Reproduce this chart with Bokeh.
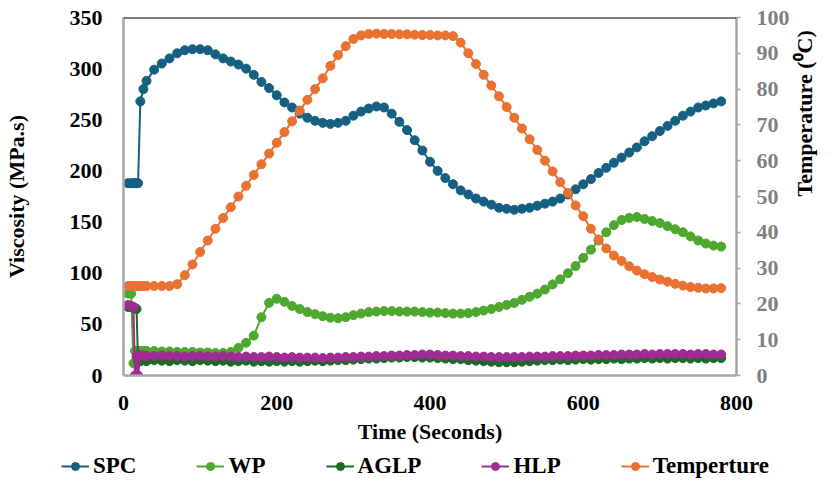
import math
from bokeh.plotting import figure
from bokeh.models import (Range1d, LinearAxis, FixedTicker, Legend, LegendItem, Span)
from bokeh.embed import file_html
from bokeh.resources import INLINE

# ---------------- data ----------------
time_s = [6, 10, 13, 15, 17, 19, 22, 26, 30,
          40, 50, 60, 70, 80, 90, 100, 110, 120, 130, 140, 150, 160, 170, 180, 190,
          200, 210, 220, 230, 240, 250, 260, 270, 280, 290, 300, 310, 320, 330, 340,
          350, 360, 370, 380, 390, 400, 410, 420, 430, 440, 450, 460, 470, 480, 490,
          500, 510, 520, 530, 540, 550, 560, 570, 580, 590, 600, 610, 620, 630, 640,
          650, 660, 670, 680, 690, 700, 710, 720, 730, 740, 750, 760, 770, 780]

spc = [188, 188, 188, 188, 188, 188, 268, 280, 288,
       299, 305, 310, 315, 318, 319, 319, 318, 314, 310, 307, 304, 300, 294, 287, 281,
       274, 267, 262, 256, 252, 249, 247, 246, 247, 249, 254, 258, 261, 263, 262,
       256, 248, 240, 230, 220, 209, 200, 193, 187, 181, 177, 173, 170, 167, 164,
       163, 162, 163, 164, 166, 168, 170, 173, 177, 182, 187, 192, 198, 203, 208,
       213, 218, 223, 229, 234, 239, 244, 249, 254, 258, 262, 264, 266, 268]

wp = [80, 80, 12, 24, 24, 24, 24, 24, 24,
      24, 23.5, 23.5, 23, 23, 23, 22.5, 22.5, 22, 22, 23, 27, 32, 39, 57, 71,
      75, 72, 68, 65, 62, 60, 58, 56.5, 56, 57, 59, 60.5, 62, 62.5, 63,
      63, 62.5, 62.5, 62.5, 62, 61.5, 61.5, 61, 60.5, 60.5, 61, 62, 63.5, 65, 67,
      69, 71, 74, 77, 80, 84, 89, 94, 100, 107, 115, 123, 132, 140, 147,
      152, 154, 155, 153, 151, 149, 146, 143, 140, 136, 132, 129, 127, 126]

aglp = [67, 67, 66, 66, 65, 14, 14, 15, 14,
        15, 14.5, 14, 15, 14.5, 14, 15, 14.5, 14, 14.5, 13.5, 14, 14.5, 13.5, 14, 13.5,
        14, 13.5, 14, 13.5, 14, 14.5, 14, 14.5, 15, 15,
        15.5, 16, 16.5, 16.5, 17, 17.5, 17.5, 18, 18, 17.5, 17.5, 17, 16.5, 16, 16,
        15, 14.5, 14, 13.5, 13, 13, 13, 13.5, 14, 14.5,
        15, 15, 15.5, 15, 15.5, 16, 15.5, 16, 16, 16.5, 16, 16.5, 16.5, 17, 16.5, 17,
        16.5, 17, 17, 16.5, 17, 16.5, 17, 17]

hlp = [69, 68, 67, 0, 19, 0, 20, 19.5, 19,
       19, 19.5, 19, 19, 18.5, 19, 19, 18.5, 18.5, 19, 18.5, 18, 18.5, 18, 18, 18.5,
       18, 17.5, 18, 17.5, 17.5, 17.5, 17, 17.5, 17.5, 18,
       18, 18.5, 18.5, 19, 19, 19.5, 19.5, 20, 20, 20.5, 20.5, 20, 19.5, 19.5, 19,
       19, 18.5, 18.5, 18, 18, 18, 18, 18, 18.5, 18.5,
       18.5, 19, 19, 19, 19.5, 19.5, 19.5, 20, 20, 20, 20.5, 20.5, 20.5, 21, 20.5, 21,
       21, 21, 21, 20.5, 21, 21, 20.5, 20.5]

temperature = [25, 25, 25, 25, 25, 25, 25, 25, 25,
               25, 25, 25, 25.5, 28, 31, 34.5, 37.7, 41, 44, 47, 50, 53, 56, 59, 62,
               65, 68, 71, 74, 77, 80, 83, 86.5, 89.5, 92, 94, 95, 95.4, 95.5, 95.4,
               95.4, 95.3, 95.3, 95.2, 95.1, 95.1, 95, 95, 94.8, 93, 90, 87, 84, 81, 78,
               75, 72, 69, 66, 63, 60, 57, 54, 51, 47.5, 44.5, 41, 38, 35.5, 33.5,
               32, 30.5, 29.3, 28.3, 27.5, 26.8, 26.2, 25.6, 25.1, 24.7, 24.5, 24.3, 24.3, 24.4]

series_names = ["SPC", "WP", "AGLP", "HLP", "Temperture"]
series_colors = ["#156082", "#4EA72E", "#196B24", "#A02B93", "#E97132"]
x_ticks = [0, 200, 400, 600, 800]
y_ticks = [0, 50, 100, 150, 200, 250, 300, 350]
y2_ticks = [0, 10, 20, 30, 40, 50, 60, 70, 80, 90, 100]

FONT = "Liberation Serif"

p = figure(width=832, height=452, output_backend="svg", toolbar_location=None,
           x_range=Range1d(0, 800), y_range=Range1d(0, 350),
           min_border_left=123, min_border_right=84, min_border_top=17,
           min_border_bottom=77)
p.extra_y_ranges = {"temp": Range1d(0, 100)}
p.xgrid.visible = False
p.ygrid.visible = False
p.outline_line_color = None
p.background_fill_color = "white"
p.border_fill_color = "white"

axis_gray = "#A6A6A6"

# left axis
ya = p.yaxis[0]
ya.ticker = FixedTicker(ticks=y_ticks)
ya.axis_line_color = axis_gray
ya.axis_line_width = 2.5
ya.major_tick_line_color = None
ya.minor_tick_line_color = None
ya.major_tick_out = 0
ya.major_tick_in = 0
ya.minor_tick_out = 0
ya.major_label_standoff = 21
ya.major_label_text_font = FONT
ya.major_label_text_font_style = "bold"
ya.major_label_text_font_size = "22px"
ya.major_label_text_color = "black"
ya.axis_label = "Viscosity (MPa.s)"
ya.axis_label_standoff = 38
ya.axis_label_text_font = FONT
ya.axis_label_text_font_style = "bold"
ya.axis_label_text_font_size = "22px"
ya.axis_label_text_color = "black"

# bottom axis
xa = p.xaxis[0]
xa.ticker = FixedTicker(ticks=x_ticks)
xa.axis_line_color = axis_gray
xa.axis_line_width = 2.5
xa.major_tick_line_color = None
xa.minor_tick_line_color = None
xa.major_tick_out = 0
xa.major_tick_in = 0
xa.minor_tick_out = 0
xa.major_label_standoff = 20
xa.major_label_text_font = FONT
xa.major_label_text_font_style = "bold"
xa.major_label_text_font_size = "22px"
xa.major_label_text_color = "black"
xa.axis_label = "Time (Seconds)"
xa.axis_label_standoff = 6
xa.axis_label_text_font = FONT
xa.axis_label_text_font_style = "bold"
xa.axis_label_text_font_size = "22px"
xa.axis_label_text_color = "black"

# right axis
ra = LinearAxis(y_range_name="temp", ticker=FixedTicker(ticks=y2_ticks))
ra.axis_line_color = axis_gray
ra.axis_line_width = 2.5
ra.major_tick_line_color = axis_gray
ra.major_tick_line_width = 1.5
ra.major_tick_out = 4
ra.major_tick_in = 0
ra.minor_tick_line_color = None
ra.major_label_standoff = 16
ra.major_label_text_font = FONT
ra.major_label_text_font_style = "bold"
ra.major_label_text_font_size = "22px"
ra.major_label_text_color = "#7F7F7F"
ra.axis_label = "Temperature (\u2070C)"
ra.axis_label_standoff = 12
ra.axis_label_text_font = FONT
ra.axis_label_text_font_style = "bold"
ra.axis_label_text_font_size = "22px"
ra.axis_label_text_color = "black"
if "axis_label_orientation" in LinearAxis.properties():
    ra.axis_label_orientation = math.pi / 2
    ra.axis_label_text_align = "center"
p.add_layout(ra, "right")

# top border
p.add_layout(Span(location=350, dimension="width", line_color="black", line_width=2))

# series
vis = [spc, wp, aglp, hlp]
for name, color, vals in zip(series_names[:4], series_colors[:4], vis):
    p.line(time_s, vals, line_color=color, line_width=2)
    p.scatter(time_s, vals, size=9, fill_color=color, line_color=color)
p.line(time_s, temperature, line_color=series_colors[4], line_width=2,
       y_range_name="temp")
p.scatter(time_s, temperature, size=9, fill_color=series_colors[4],
          line_color=series_colors[4], y_range_name="temp")

# legend strip below the chart (separate root, frame covers the whole strip)
lg = figure(width=832, height=32, output_backend="svg", toolbar_location=None,
            x_range=Range1d(0, 1), y_range=Range1d(0, 1),
            x_axis_type=None, y_axis_type=None,
            min_border_left=0, min_border_right=0, min_border_top=0,
            min_border_bottom=0)
lg.xgrid.visible = False
lg.ygrid.visible = False
lg.outline_line_color = None
lg.background_fill_color = "white"
lg.border_fill_color = "white"
items = []
for name, color in zip(series_names, series_colors):
    # legend-only renderers, their points sit outside the visible range
    lr = lg.line([5, 6], [5, 6], line_color=color, line_width=2)
    sr = lg.scatter([5], [5], size=9, fill_color=color, line_color=color)
    items.append(LegendItem(label=name, renderers=[lr, sr]))
legend = Legend(items=items, orientation="horizontal", location=(61, 5),
                label_text_font=FONT, label_text_font_style="bold",
                label_text_font_size="23px", label_text_color="black",
                glyph_width=28, glyph_height=20, label_standoff=4, spacing=60,
                padding=0, margin=0, border_line_color=None,
                background_fill_alpha=0)
lg.add_layout(legend)

open("out.html", "w").write(file_html([p, lg], INLINE))
